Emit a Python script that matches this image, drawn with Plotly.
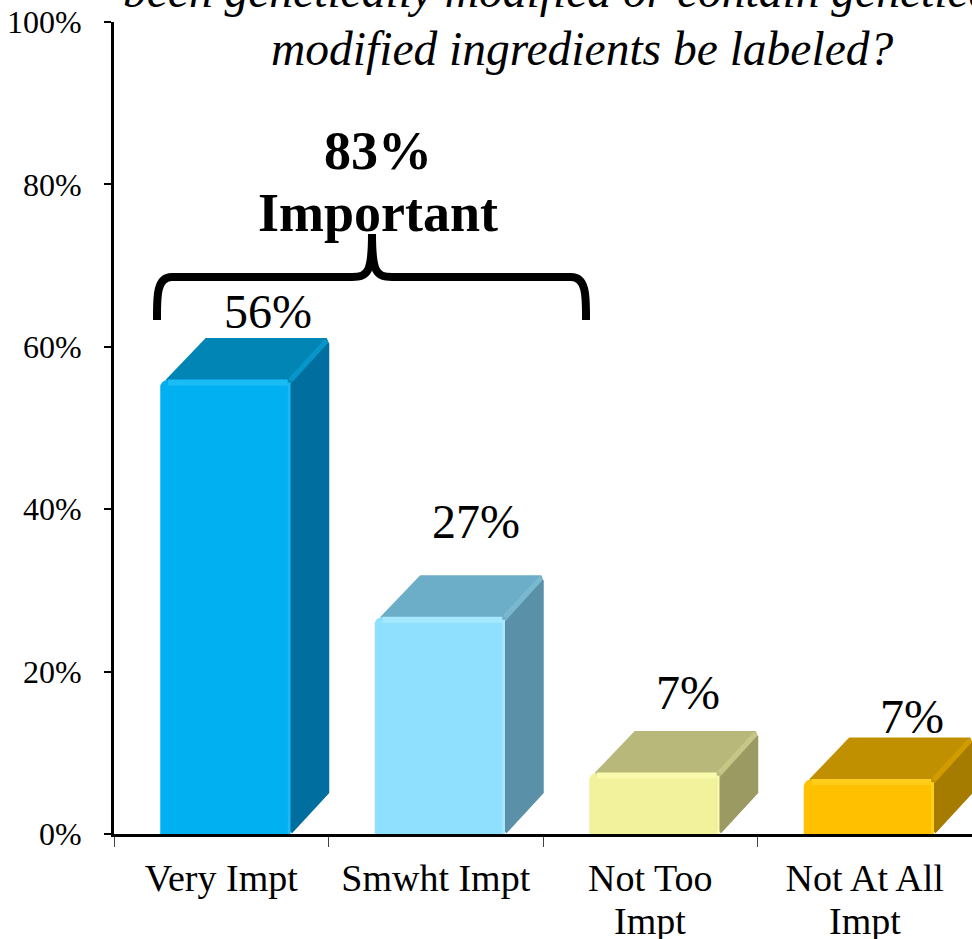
import plotly.graph_objects as go

categories = ["Very Impt", "Smwht Impt", "Not Too", "Not At All"]
categories_line2 = ["", "", "Impt", "Impt"]
values = [55.9, 26.7, 7.5, 6.7]
value_labels = ["56%", "27%", "7%", "7%"]
y_ticks = [0, 20, 40, 60, 80, 100]
y_tick_labels = ["0%", "20%", "40%", "60%", "80%", "100%"]
front_colors = ["#00B0F0", "#8FE0FF", "#F1F29B", "#FFC000"]
top_colors = ["#0085B5", "#6CADC8", "#B8B87A", "#C09000"]
side_colors = ["#006FA0", "#5A90A8", "#9A9A62", "#A67C00"]
edge_colors = ["#1ABCF6", "#A6E8FF", "#F9FAAC", "#FFCE1A"]
top_edge_colors = ["#0796C8", "#7AB8D0", "#C6C686", "#D09C00"]

W, H = 972, 939
L, R, T, B = 114, 972, 22, 834
cat_px = (R - L) / 4
val_px = (B - T) / 100


def paper_x(px):
    return (px - L) / (R - L)


def paper_y(py):
    return (B - py) / (B - T)


bar_width = 130 / cat_px
bar_shift = 4 / cat_px
dx = 39 / cat_px
dy = 42 / val_px
ix = 2.5 / cat_px
iy = 2.5 / val_px

fig = go.Figure()
xs = list(range(len(values)))
centers = [i + bar_shift for i in xs]
fig.add_trace(go.Bar(
    x=centers, y=values, width=bar_width,
    marker=dict(color=front_colors, line=dict(width=0), cornerradius=7),
    hoverinfo="skip",
))

for c, v, top, side, edge, tedge in zip(centers, values, top_colors, side_colors, edge_colors, top_edge_colors):
    l, r = c - bar_width / 2, c + bar_width / 2
    # side face, rounded through a thick round-joined outline
    fig.add_trace(go.Scatter(
        x=[r, r + dx - ix, r + dx - ix, r, r],
        y=[iy, dy, v + dy - 2 * iy, v - iy, iy],
        mode="lines", fill="toself", fillcolor=side,
        line=dict(color=side, width=5), hoverinfo="skip"))
    # top face
    fig.add_trace(go.Scatter(
        x=[l + 3 * ix, l + dx + 3 * ix, r + dx - ix, r, l + 3 * ix],
        y=[v - iy / 2, v + dy - iy, v + dy - iy, v - iy / 2, v - iy / 2],
        mode="lines", fill="toself", fillcolor=top,
        line=dict(color=top, width=5), hoverinfo="skip"))
    # bevel on the top face's right edge
    fig.add_trace(go.Scatter(
        x=[r, r + dx - ix], y=[v, v + dy - iy],
        mode="lines", line=dict(color=tedge, width=5), hoverinfo="skip"))
    # bevel on the front face
    fig.add_trace(go.Scatter(
        x=[l + 3 * ix, r - ix],
        y=[v - iy, v - iy],
        mode="lines", line=dict(color=edge, width=6), hoverinfo="skip"))
    fig.add_trace(go.Scatter(
        x=[r - ix / 2, r - ix / 2],
        y=[v - iy, 0],
        mode="lines", line=dict(color=edge, width=3), hoverinfo="skip"))

annotations = []


def text(px, py, s, size, bold=False, italic=False):
    if bold:
        s = f"<b>{s}</b>"
    if italic:
        s = f"<i>{s}</i>"
    annotations.append(dict(
        x=paper_x(px), y=paper_y(py), xref="paper", yref="paper",
        text=s, showarrow=False, xanchor="center", yanchor="middle",
        font=dict(family="Liberation Serif", size=size, color="black")))


label_px = [(268, 312), (476, 521), (688, 692), (912, 716)]
for (px, py), lab in zip(label_px, value_labels):
    text(px, py, lab, 48)

for i, lab in zip(xs, categories_line2):
    if lab:
        text(L + (i + 0.5) * cat_px, 921, lab, 38)

text(378, 151, "83%", 54, bold=True)
text(378, 213, "Important", 54, bold=True)
text(582, 49, "modified ingredients be labeled?", 47.5, italic=True)
text(582, -9, "been genetically modified or contain genetically", 47.5, italic=True)


def P(px, py):
    return f"{paper_x(px):.5f},{paper_y(py):.5f}"


brace = (
    f"M {P(157, 320)} C {P(157, 298)} {P(156, 277)} {P(172, 277)} "
    f"L {P(352, 277)} C {P(368, 277)} {P(372, 272)} {P(372, 234)} "
    f"C {P(372, 272)} {P(376, 277)} {P(392, 277)} "
    f"L {P(571, 277)} C {P(587, 277)} {P(586, 298)} {P(586, 320)}"
)

fig.update_layout(
    width=W, height=H, autosize=False, showlegend=False,
    paper_bgcolor="white", plot_bgcolor="white",
    margin=dict(l=L, r=W - R, t=T, b=H - B, pad=0),
    font=dict(family="Liberation Serif", color="black"),
    annotations=annotations,
    shapes=[dict(type="path", path=brace, xref="paper", yref="paper",
                 line=dict(color="black", width=8), layer="above")],
    xaxis=dict(
        range=[-0.5, 3.5], tickmode="array", tickvals=xs, ticktext=categories,
        ticks="", ticklabelstandoff=8, showgrid=False, zeroline=False, automargin=False,
        showline=True, linecolor="black", linewidth=3,
        tickfont=dict(size=38, family="Liberation Serif"),
        minor=dict(tickmode="array", tickvals=[-0.5, 0.5, 1.5, 2.5, 3.5],
                   ticks="outside", ticklen=10, tickwidth=1, tickcolor="#444444",
                   showgrid=False),
    ),
    yaxis=dict(
        range=[0, 100], tickmode="array", tickvals=y_ticks, ticktext=y_tick_labels,
        ticks="outside", ticklen=7, tickwidth=2, tickcolor="black", automargin=False,
        showline=True, linecolor="black", linewidth=3, showgrid=False, zeroline=False,
        tickfont=dict(size=32, family="Liberation Serif"), ticklabelstandoff=16,
    ),
)
fig.write_html("out.html", config=dict(displayModeBar=False),
               post_script="document.body.style.margin='0';")
